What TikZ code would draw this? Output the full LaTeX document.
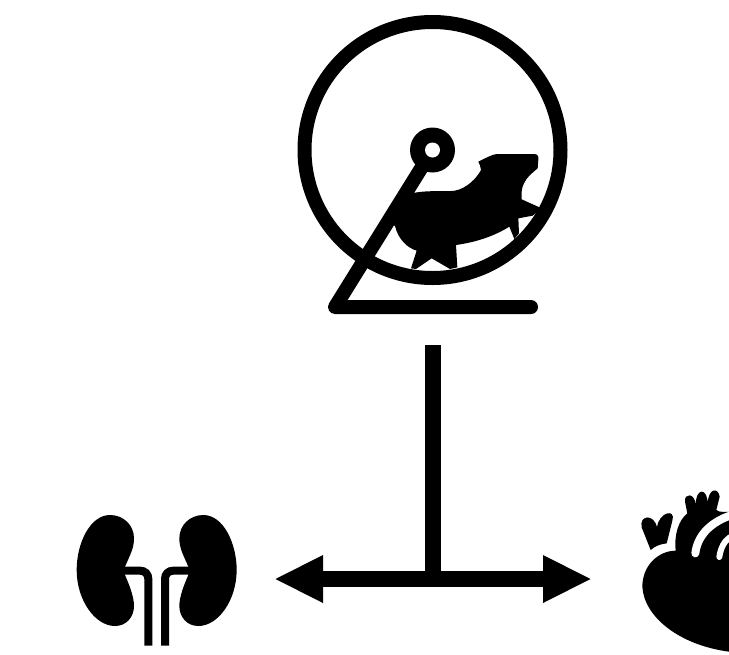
\documentclass[tikz,border=0pt]{standalone}
\begin{document}
\begin{tikzpicture}[x=0.75pt,y=-0.75pt,
  thickline/.style={draw=black,line width=10.5pt,line cap=round,line join=round},
  shaft/.style={draw=black,line width=12pt},
  headfill/.style={fill=black,draw=none},
  zoomA/.style={shift={(285pt,-90pt)},x=0.25pt,y=-0.25pt},
  zoomB/.style={shift={(45pt,-375pt)},x=0.25pt,y=-0.25pt},
  zoomC/.style={shift={(471.75pt,-360pt)},x=0.25pt,y=-0.25pt}]
\useasboundingbox (0,0) rectangle (729,654);
\clip (0,0) rectangle (729,654);
% wheel
\coordinate (hub) at (432.5,150);
\coordinate (foot) at (335,307);
\coordinate (footend) at (531,307);
\draw[thickline] (hub) circle[radius=128];
\draw[thickline] (hub) -- (foot) -- (footend);
\fill[black] (hub) circle[radius=22.5];
\fill[white] (hub) circle[radius=7.5];
% hamster
\begin{scope}[zoomA]
\fill[black] (95,216) -- (105,218) .. controls (150,210) and (190,216) .. (225,212)
  .. controls (260,205) and (290,175) .. (303,150)
  .. controls (303,140) and (298,133) .. (295,125)
  .. controls (315,115) and (335,104) .. (350,102) -- (462,102)
  .. controls (472,102) and (476,108) .. (475,118) -- (473,145)
  .. controls (455,160) and (440,172) .. (432,190)
  .. controls (424,205) and (424,222) .. (425,238)
  -- (485,265) -- (458,287) -- (415,295) -- (417,340) -- (403,357) -- (388,320)
  .. controls (340,350) and (285,367) .. (228,375)
  -- (232,442) -- (210,447) -- (155,415) -- (108,447) -- (93,445) -- (110,392)
  .. controls (85,385) and (55,360) .. (45,318) -- (30,310) -- cycle;
\end{scope}
% connector
\coordinate (stemtop) at (432.5,345);
\coordinate (junction) at (432.5,579);
\coordinate (ltip) at (275.5,579);
\coordinate (rtip) at (590.5,579);
\draw[shaft] (stemtop) -- (junction);
\draw[shaft] (323,579) -- (543,579);
\fill[headfill] (ltip) -- (323,555) -- (323,603) -- cycle;
\fill[headfill] (rtip) -- (543,555) -- (543,603) -- cycle;
% kidneys
\begin{scope}[zoomB]
\foreach \s/\o in {1/0,-1/580}{
\begin{scope}[shift={(\o*0.25pt,0)},xscale=\s]
\fill[black] (195,200) .. controls (210,165) and (222,145) .. (222,115)
  .. controls (222,75) and (190,45) .. (150,45)
  .. controls (90,45) and (50,130) .. (50,210)
  .. controls (50,300) and (105,378) .. (165,378)
  .. controls (200,378) and (222,350) .. (222,318)
  .. controls (222,290) and (208,255) .. (195,225) -- cycle;
\draw[black,line width=6pt] (190,212) -- (240,212)
  .. controls (255,212) and (265,222) .. (265,237) -- (265,437);
\end{scope}}
\end{scope}
% heart
\begin{scope}[zoomC]
\fill[black] (65,210) -- (38,142) .. controls (30,105) and (75,100) .. (84,142)
  .. controls (90,95) and (142,85) .. (130,122)
  -- (113,190)
  .. controls (95,192) and (78,198) .. (65,210) -- cycle;
\fill[black] (140,212) .. controls (90,212) and (40,255) .. (40,320)
  .. controls (45,410) and (150,495) .. (300,515) -- (330,515) -- (330,97) -- (272,95)
  -- (262,90) -- (272,50) .. controls (268,22) and (238,22) .. (236,72)
  .. controls (236,22) and (200,22) .. (200,75)
  .. controls (198,38) and (165,38) .. (168,65) -- (175,100)
  .. controls (150,120) and (135,160) .. (140,212) -- cycle;
\draw[white,line width=6pt,line cap=round] (199,220)
  .. controls (205,170) and (240,130) .. (300,108) -- (340,98);
\draw[white,line width=4.5pt,line cap=round] (271,231)
  .. controls (275,205) and (285,180) .. (310,168);
\end{scope}
\end{tikzpicture}
\end{document}
